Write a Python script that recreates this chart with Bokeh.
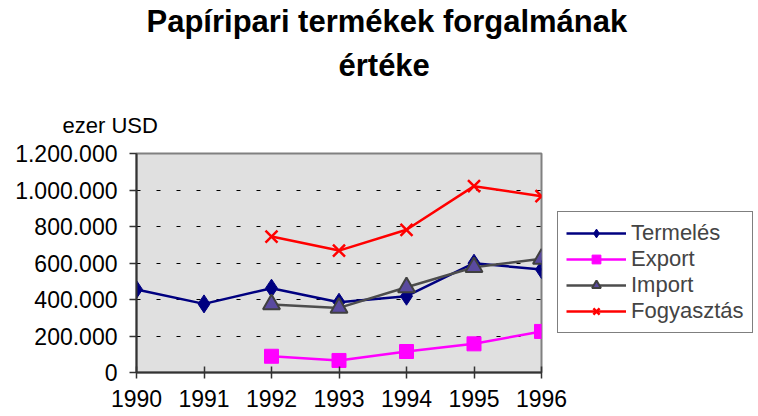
from bokeh.plotting import figure
from bokeh.models import (Range1d, FixedTicker, Legend, LegendItem, Title, ColumnDataSource)
from bokeh.embed import file_html
from bokeh.resources import INLINE

nan = float("nan")
years = [1990, 1991, 1992, 1993, 1994, 1995, 1996]
termeles = [455000, 376000, 462000, 385000, 418000, 599000, 564000]
export = [nan, nan, 89000, 66000, 115000, 157000, 225000]
importv = [nan, nan, 373000, 354000, 467000, 577000, 623000]
fogyasztas = [nan, nan, 745000, 668000, 782000, 1021000, 966000]
series_names = ["Termelés", "Export", "Import", "Fogyasztás"]
y_ticks = [0, 200000, 400000, 600000, 800000, 1000000, 1200000]
y_labels = ["0", "200.000", "400.000", "600.000", "800.000", "1.000.000", "1.200.000"]
grid_ticks = [200000, 400000, 600000, 800000, 1000000]
title_line1 = "Papíripari termékek forgalmának"
title_line2 = "értéke"
unit_label = "ezer USD"

FONT = "Liberation Sans"

p = figure(frame_width=405, frame_height=219, output_backend="svg", toolbar_location=None,
           x_range=Range1d(1990, 1996), y_range=Range1d(0, 1200000),
           title=title_line1, min_border_left=136, min_border_right=217,
           min_border_top=153, min_border_bottom=40)

p.background_fill_color = "#E0E0E0"
p.border_fill_color = "white"
p.outline_line_color = "#808080"
p.outline_line_width = 2

# main title (outermost)
p.title.align = "left"
p.title.offset = 10
p.title.text_font = FONT
p.title.text_font_size = "31px"
p.title.text_font_style = "bold"
p.title.text_color = "black"
p.title.standoff = -11

# closest to frame: unit label, then second title line
tu = Title(text=unit_label, align="left", offset=-74, text_font=FONT,
           text_font_size="22px", text_font_style="normal", text_color="black", standoff=31)
p.add_layout(tu, "above")
t2 = Title(text=title_line2, align="left", offset=202, text_font=FONT,
           text_font_size="31px", text_font_style="bold", text_color="black", standoff=25)
p.add_layout(t2, "above")

# axes
p.xaxis.ticker = FixedTicker(ticks=years)
p.yaxis.ticker = FixedTicker(ticks=y_ticks)
p.yaxis.major_label_overrides = {t: l for t, l in zip(y_ticks, y_labels)}
for ax in (p.xaxis[0], p.yaxis[0]):
    ax.axis_line_color = "#333333"
    ax.axis_line_width = 2
    ax.major_tick_line_color = "#333333"
    ax.major_tick_line_width = 1.5
    ax.minor_tick_line_color = None
    ax.major_label_text_font = FONT
    ax.major_label_text_font_size = "23px"
    ax.major_label_text_color = "black"
p.yaxis.major_tick_in = 0
p.yaxis.major_tick_out = 7
p.yaxis.major_label_standoff = 12
p.xaxis.major_tick_in = 6
p.xaxis.major_tick_out = 6
p.xaxis.major_label_standoff = 11

p.xgrid.grid_line_color = None
p.ygrid.ticker = FixedTicker(ticks=grid_ticks)
p.ygrid.grid_line_color = "black"
p.ygrid.grid_line_dash = "4 16"
p.ygrid.grid_line_width = 1

src = ColumnDataSource(dict(x=years, t=termeles, e=export, i=importv, f=fogyasztas))

l1 = p.line("x", "t", source=src, line_color="#000080", line_width=2.5)
m1 = p.scatter("x", "t", source=src, marker="diamond", size=18, fill_color="#000080",
               line_color="#000080")
l2 = p.line("x", "e", source=src, line_color="#FF00FF", line_width=2.5)
m2 = p.scatter("x", "e", source=src, marker="square", size=14, fill_color="#FF00FF",
               line_color="#FF00FF")
l3 = p.line("x", "i", source=src, line_color="#4D4D4D", line_width=2.5)
m3 = p.scatter("x", "i", source=src, marker="triangle", size=17, fill_color="#5A4AA0",
               line_color="#404040", line_width=2)
l4 = p.line("x", "f", source=src, line_color="#FF0000", line_width=2.5)
m4 = p.scatter("x", "f", source=src, marker="x", size=17, line_color="#FF0000",
               line_width=2.5)

legend = Legend(items=[
    LegendItem(label=series_names[0], renderers=[l1, m1]),
    LegendItem(label=series_names[1], renderers=[l2, m2]),
    LegendItem(label=series_names[2], renderers=[l3, m3]),
    LegendItem(label=series_names[3], renderers=[l4, m4]),
], location=(16, 39))
legend.label_text_font = FONT
legend.label_text_font_size = "22px"
legend.glyph_width = 60
legend.glyph_height = 22
legend.label_height = 22
legend.label_standoff = 5
legend.spacing = 0
legend.padding = 8
legend.margin = 0
legend.border_line_color = "black"
legend.border_line_width = 1
legend.background_fill_color = "white"
p.add_layout(legend, "right")

open("out.html", "w").write(file_html(p, INLINE))
